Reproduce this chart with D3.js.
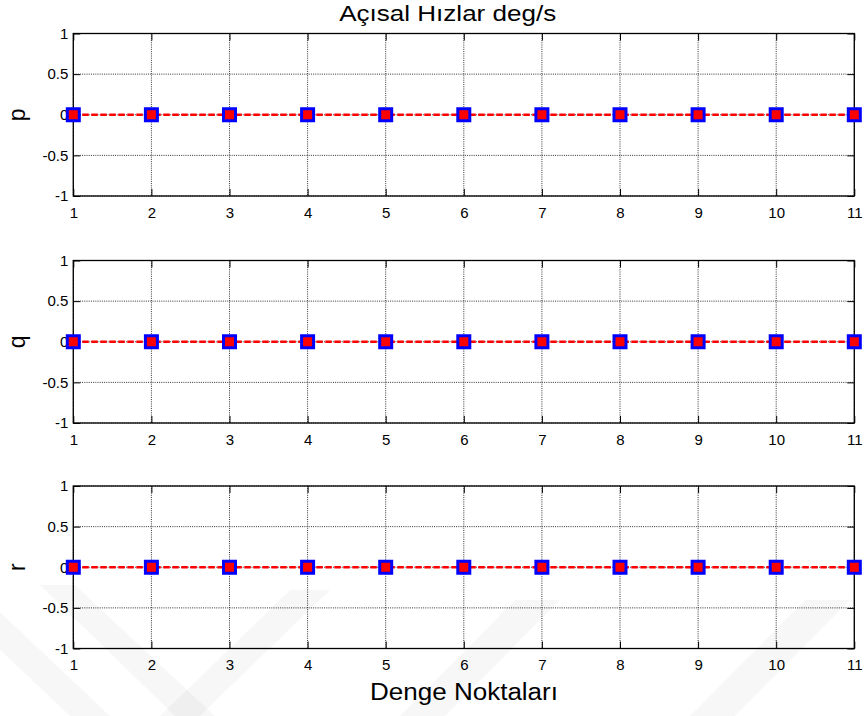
<!DOCTYPE html>
<html>
<head>
<meta charset="utf-8">
<script src="https://cdn.jsdelivr.net/npm/d3@7"></script>
<style>
  html, body { margin: 0; padding: 0; background: #fff; }
  svg { display: block; font-family: Arial, "Liberation Sans", Helvetica, sans-serif; }
</style>
</head>
<body>
<svg id="chart" width="867" height="716"></svg>
<script>
// Equilibrium point indices (x axis)
const points = [1, 2, 3, 4, 5, 6, 7, 8, 9, 10, 11];
// Angular rates at each equilibrium point, deg/s
const pValues = [0, 0, 0, 0, 0, 0, 0, 0, 0, 0, 0];
const qValues = [0, 0, 0, 0, 0, 0, 0, 0, 0, 0, 0];
const rValues = [0, 0, 0, 0, 0, 0, 0, 0, 0, 0, 0];
const seriesNames = ["p", "q", "r"];
const xTicks = [1, 2, 3, 4, 5, 6, 7, 8, 9, 10, 11];
const yTicks = [-1, -0.5, 0, 0.5, 1];
const titleText = "Açısal Hızlar deg/s";
const xLabelText = "Denge Noktaları";

const series = [pValues, qValues, rValues];

const svg = d3.select("#chart");
const W = 867, H = 716;
svg.append("rect").attr("width", W).attr("height", H).attr("fill", "#fff");

const left = 73.3, right = 854.3;
const panelTops = [33.5, 260.5, 486];
const panelH = 162.5;
const tickLen = 7;
const FONT = "Arial, 'Liberation Sans', sans-serif";
const TICK_FONT = 15;

const x = d3.scaleLinear().domain([1, 11]).range([left, right]);

series.forEach((vals, i) => {
  const top = panelTops[i];
  const y = d3.scaleLinear().domain([-1, 1]).range([top + panelH, top]);
  const g = svg.append("g");

  // white axes background
  g.append("rect").attr("x", left).attr("y", top)
    .attr("width", right - left).attr("height", panelH).attr("fill", "#fff");

  // dotted grid
  const grid = g.append("g").attr("stroke", "#000").attr("stroke-width", 1)
    .attr("stroke-dasharray", "1,1.2").attr("opacity", 0.8);
  xTicks.forEach(t => grid.append("line")
    .attr("x1", x(t)).attr("x2", x(t)).attr("y1", top).attr("y2", top + panelH));
  yTicks.forEach(t => grid.append("line")
    .attr("x1", left).attr("x2", right).attr("y1", y(t)).attr("y2", y(t)));

  // axes with inward ticks on all four sides
  const bottomAxis = d3.axisBottom(x).tickValues(xTicks).tickSize(-tickLen).tickPadding(11)
    .tickFormat(d3.format("d"));
  const topAxis = d3.axisTop(x).tickValues(xTicks).tickSize(-tickLen).tickFormat("");
  const leftAxis = d3.axisLeft(y).tickValues(yTicks).tickSize(-tickLen)
    .tickFormat(d => d === 0 ? "0" : String(d));
  const rightAxis = d3.axisRight(y).tickValues(yTicks).tickSize(-tickLen).tickFormat("");

  const styleAxis = sel => {
    sel.attr("font-size", TICK_FONT).attr("font-family", FONT);
    sel.select(".domain").remove();
    sel.selectAll(".tick line").attr("stroke", "#000").attr("stroke-width", 1);
    sel.selectAll(".tick text").attr("fill", "#000")
      .attr("font-size", TICK_FONT).attr("font-family", FONT);
  };

  g.append("g").attr("transform", `translate(0,${top + panelH})`).call(bottomAxis).call(styleAxis);
  g.append("g").attr("transform", `translate(0,${top})`).call(topAxis).call(styleAxis);
  const la = g.append("g").attr("transform", `translate(${left},0)`).call(leftAxis).call(styleAxis);
  la.selectAll(".tick text").attr("x", -5);
  g.append("g").attr("transform", `translate(${right},0)`).call(rightAxis).call(styleAxis);

  // axes box
  g.append("rect").attr("x", left).attr("y", top)
    .attr("width", right - left).attr("height", panelH)
    .attr("fill", "none").attr("stroke", "#000").attr("stroke-width", 1.3);

  // y label
  g.append("text")
    .attr("transform", `translate(24.5,${top + panelH / 2}) rotate(-90)`)
    .attr("text-anchor", "middle")
    .attr("font-size", 23).attr("font-family", FONT).attr("fill", "#000")
    .text(seriesNames[i]);

  // dashed red line through the points
  const line = d3.line().x((d, k) => x(points[k])).y(d => y(d));
  g.append("path").datum(vals).attr("d", line)
    .attr("fill", "none").attr("stroke", "#ff0000").attr("stroke-width", 2.6)
    .attr("stroke-dasharray", "6.5,2.5");

  // square markers
  g.selectAll("rect.mk").data(vals).enter().append("rect").attr("class", "mk")
    .attr("x", (d, k) => x(points[k]) - 6).attr("y", d => y(d) - 6)
    .attr("width", 12).attr("height", 12)
    .attr("fill", "#ff0000").attr("stroke", "#0000ff").attr("stroke-width", 3);
});

// title and x label
svg.append("text").attr("x", 447.7).attr("y", 20.7).attr("text-anchor", "middle")
  .attr("font-size", 22).attr("font-family", FONT).attr("fill", "#000")
  .attr("textLength", 217).attr("lengthAdjust", "spacingAndGlyphs")
  .text(titleText);
svg.append("text").attr("x", 464).attr("y", 700).attr("text-anchor", "middle")
  .attr("font-size", 23.5).attr("font-family", FONT).attr("fill", "#000")
  .attr("textLength", 188).attr("lengthAdjust", "spacingAndGlyphs")
  .text(xLabelText);

// faint diagonal watermark bands along the bottom
const bands = [
  [[0, 612], [0, 650], [70, 716], [110, 716]],
  [[40, 585], [75, 585], [215, 716], [175, 716]],
  [[160, 716], [200, 716], [330, 590], [290, 590]],
  [[400, 716], [445, 716], [560, 600], [515, 600]],
  [[690, 716], [735, 716], [850, 600], [805, 600]]
];
svg.append("g").selectAll("polygon").data(bands).enter().append("polygon")
  .attr("points", d => d.map(p => p.join(",")).join(" "))
  .attr("fill", "#000").attr("opacity", 0.03);
</script>
</body>
</html>
